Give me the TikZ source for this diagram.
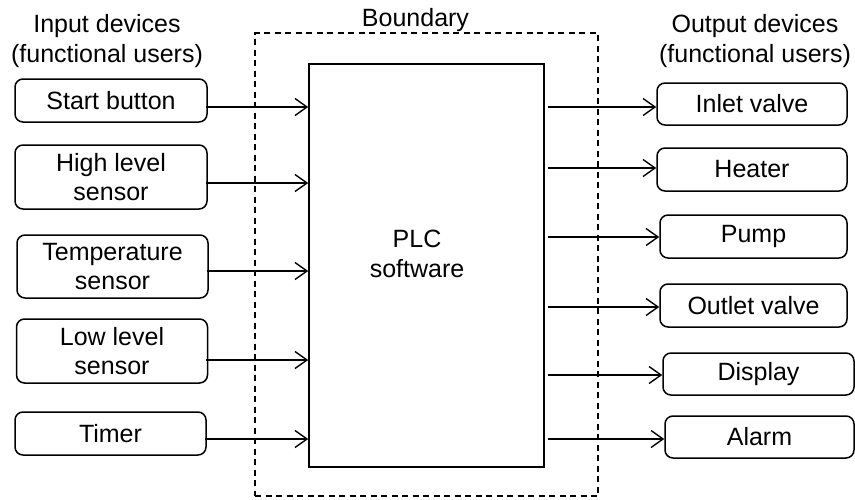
\documentclass[tikz,border=0pt]{standalone}
\usepackage{fontspec}
\setmainfont{Liberation Sans}
\usetikzlibrary{arrows.meta}
\tikzset{
  txt/.style={font=\fontsize{25}{29.5}\selectfont, align=center, inner sep=0pt},
  dev/.style={txt, draw, rounded corners=8pt, line width=1.5pt},
  plcbox/.style={draw, line width=1.6pt, inner sep=0pt},
  bound/.style={draw, line width=1.6pt, dash pattern=on 6pt off 4.5pt, inner sep=0pt},
  arr/.style={-{Straight Barb[length=12pt,width=17pt]}, line width=1.4pt},
}
\begin{document}
\begin{tikzpicture}[x=1pt,y=-1pt]
\useasboundingbox (0,0) rectangle (855,499);
% titles
\node[txt] (tin) at (107,41) {Input devices\\(functional users)};
\node[txt] (tout) at (755,41) {Output devices\\(functional users)};
\node[txt, anchor=base] (tb) at (415.5,26) {Boundary};
% boundary and PLC
\node[bound, minimum width=343pt, minimum height=463pt] (bnd) at (426.5,264.5) {};
\node[plcbox, minimum width=235pt, minimum height=403pt] (plc) at (426.5,265.5) {};
\node[txt] (plct) at (417,254) {PLC\\software};
% inputs
\node[dev, minimum width=192pt, minimum height=43pt] (start) at (111,100.5) {Start button};
\node[dev, minimum width=192pt, minimum height=64pt] (high) at (111,177) {High level\\sensor};
\node[dev, minimum width=191pt, minimum height=63pt] (temp) at (112.5,266.5) {Temperature\\sensor};
\node[dev, minimum width=191pt, minimum height=64pt] (low) at (112,351) {Low level\\sensor};
\node[dev, minimum width=191pt, minimum height=43pt] (timer) at (110.5,433.5) {Timer};
% outputs
\node[dev, minimum width=190pt, minimum height=42pt] (inlet) at (752,104) {Inlet valve};
\node[dev, minimum width=190pt, minimum height=43pt] (heater) at (752,169.5) {Heater};
\node[dev, minimum width=187pt, minimum height=43pt] (pump) at (753.5,236.5) {Pump};
\node[dev, minimum width=187pt, minimum height=43pt] (outlet) at (753.5,305.5) {Outlet valve};
\node[dev, minimum width=191pt, minimum height=42pt] (display) at (758.5,374) {Display};
\node[dev, minimum width=189pt, minimum height=42pt] (alarm) at (759.5,437) {Alarm};
% input connectors
\path ([shift={(-2pt,-6.5pt)}]start.east) coordinate (s1)
      ([shift={(-2pt,-6pt)}]high.east) coordinate (s2)
      ([shift={(-2pt,-4.5pt)}]temp.east) coordinate (s3)
      ([shift={(-2pt,-9pt)}]low.east) coordinate (s4)
      ([shift={(-2pt,-5.5pt)}]timer.east) coordinate (s5);
\foreach \c in {s1,s2,s3,s4,s5}
  \draw[arr] (\c) -- (\c -| plc.west);
% output connectors
\path ([yshift=-3pt]inlet.west) coordinate (o1)
      ([yshift=1.5pt]heater.west) coordinate (o2)
      ([yshift=-0.5pt]pump.west) coordinate (o3)
      ([yshift=-1.5pt]outlet.west) coordinate (o4)
      ([yshift=-1pt]display.west) coordinate (o5)
      ([yshift=-2pt]alarm.west) coordinate (o6)
      ([xshift=3pt]plc.east) coordinate (pe);
\foreach \c in {o1,o2,o3,o4,o5,o6}
  \draw[arr] (\c -| pe) -- (\c);
\end{tikzpicture}
\end{document}
